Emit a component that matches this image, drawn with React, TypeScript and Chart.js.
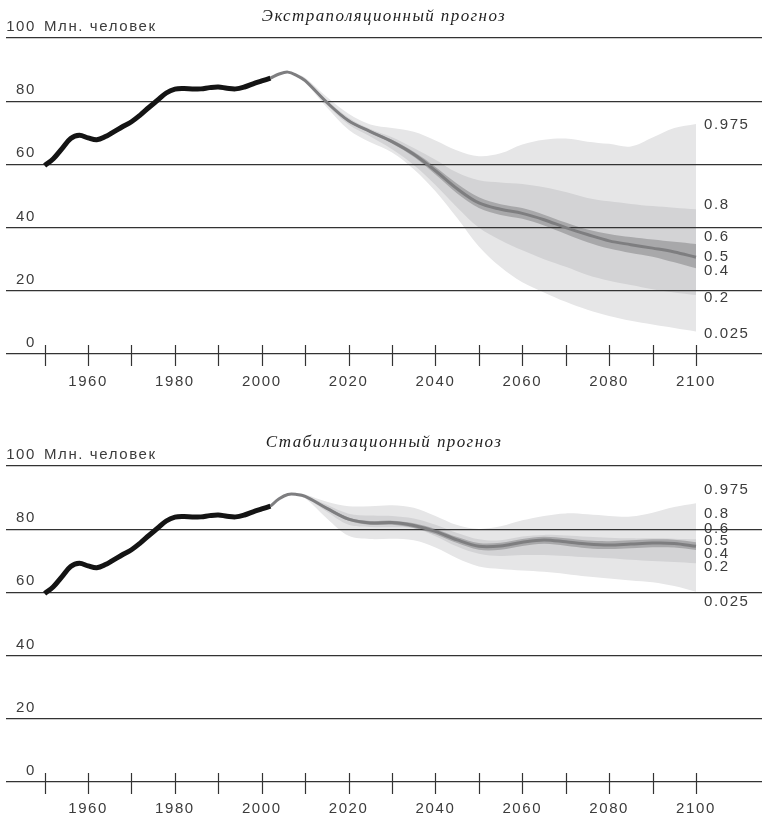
import React, { useEffect, useRef } from 'react';
import { Chart, registerables } from 'chart.js';

Chart.register(...registerables);

// ---------- data ----------
const histYears = [1950, 1952, 1954, 1956, 1958, 1960, 1962, 1964, 1966, 1968, 1970, 1972, 1974, 1976, 1978, 1980, 1982, 1984, 1986, 1988, 1990, 1992, 1994, 1996, 1998, 2000, 2002];
const histValues = [59.6, 61.8, 65.0, 68.2, 69.2, 68.4, 67.8, 68.8, 70.4, 72.0, 73.5, 75.6, 78.0, 80.3, 82.6, 83.8, 84.0, 83.9, 83.9, 84.3, 84.5, 84.1, 83.9, 84.5, 85.5, 86.4, 87.3];

const forecastYears = [2002, 2004, 2006, 2008, 2010, 2015, 2020, 2025, 2030, 2035, 2040, 2045, 2050, 2055, 2060, 2065, 2070, 2075, 2080, 2085, 2090, 2095, 2100];

// Extrapolation forecast
const extrapMedian = [87.3, 88.6, 89.2, 88.2, 86.5, 79.6, 73.8, 70.4, 67.2, 63.2, 58.0, 52.3, 47.8, 45.8, 44.5, 42.5, 40.0, 37.8, 35.8, 34.6, 33.5, 32.3, 30.6];
const extrapQ975 = [87.3, 88.7, 89.4, 88.6, 87.4, 81.3, 76.0, 72.6, 71.5, 70.3, 67.6, 64.4, 62.6, 63.5, 66.3, 67.8, 68.2, 67.2, 66.5, 65.7, 68.5, 71.5, 72.8];
const extrapQ80 = [87.3, 88.6, 89.3, 88.4, 86.8, 80.3, 74.8, 71.2, 68.6, 65.2, 61.5, 57.4, 55.0, 54.3, 53.8, 52.8, 51.3, 49.4, 48.3, 47.5, 46.8, 46.3, 45.8];
const extrapQ60 = [87.3, 88.6, 89.2, 88.3, 86.6, 79.9, 74.2, 70.8, 67.8, 64.0, 59.2, 53.9, 49.6, 47.4, 46.2, 44.1, 41.6, 39.4, 38.0, 37.0, 36.2, 35.5, 34.8];
const extrapQ40 = [87.3, 88.6, 89.2, 88.1, 86.4, 79.3, 73.4, 70.0, 66.6, 62.4, 56.8, 50.8, 46.2, 44.0, 42.8, 40.7, 38.0, 35.4, 33.4, 32.0, 30.8, 29.0, 27.1];
const extrapQ20 = [87.3, 88.5, 89.1, 88.0, 86.2, 78.8, 72.6, 68.8, 64.8, 59.8, 53.5, 46.4, 40.0, 36.0, 32.8, 30.0, 27.6, 25.0, 23.2, 21.8, 20.5, 19.5, 18.7];
const extrapQ025 = [87.3, 88.5, 89.0, 87.8, 85.8, 78.0, 71.0, 67.0, 63.8, 58.5, 51.5, 43.0, 34.0, 27.5, 22.7, 19.5, 16.5, 14.0, 12.0, 10.5, 9.3, 8.2, 7.1];

// Stabilization forecast
const stabMedian = [87.3, 89.6, 91.0, 91.0, 90.4, 86.6, 83.2, 82.0, 82.1, 81.2, 79.3, 76.6, 74.6, 74.7, 75.9, 76.6, 76.0, 75.3, 75.0, 75.3, 75.6, 75.5, 74.6];
const stabQ975 = [87.3, 89.7, 91.2, 91.4, 91.0, 88.7, 87.3, 87.3, 87.6, 86.8, 84.2, 81.3, 80.1, 80.9, 82.8, 84.2, 85.0, 84.7, 84.2, 84.0, 85.2, 87.0, 88.2];
const stabQ80 = [87.3, 89.6, 91.1, 91.2, 90.7, 87.7, 84.9, 84.3, 84.2, 83.4, 81.4, 78.8, 76.8, 76.5, 77.7, 78.2, 78.0, 77.6, 77.3, 77.1, 77.1, 77.0, 76.8];
const stabQ60 = [87.3, 89.6, 91.0, 91.1, 90.5, 87.0, 83.7, 82.6, 82.7, 81.9, 80.1, 77.5, 75.6, 75.7, 76.9, 77.6, 77.1, 76.4, 76.2, 76.5, 76.8, 76.7, 75.9];
const stabQ40 = [87.3, 89.6, 91.0, 90.9, 90.3, 86.2, 82.7, 81.4, 81.4, 80.4, 78.4, 75.6, 73.5, 73.5, 74.7, 75.4, 74.8, 74.0, 73.7, 74.0, 74.3, 74.2, 73.4];
const stabQ20 = [87.3, 89.5, 90.9, 90.8, 90.1, 85.5, 81.4, 80.7, 80.6, 80.3, 77.8, 74.5, 72.2, 71.5, 71.8, 71.8, 71.5, 71.1, 70.8, 70.3, 69.9, 69.6, 69.2];
const stabQ025 = [87.3, 89.5, 90.8, 90.6, 89.8, 83.4, 77.9, 76.9, 77.0, 76.5, 74.2, 70.8, 68.2, 67.4, 66.9, 66.5, 65.8, 65.0, 64.4, 63.8, 63.2, 62.0, 60.2];

const quantileLabels = ['0.975', '0.8', '0.6', '0.5', '0.4', '0.2', '0.025'];
const extrapLabelValues = [72.6, 47.2, 37.0, 30.7, 26.3, 17.7, 6.3];
const stabLabelValues = [92.4, 85.0, 80.0, 76.4, 72.2, 68.0, 57.0];

const yTicks = [0, 20, 40, 60, 80, 100];
const xTicks = [1950, 1960, 1970, 1980, 1990, 2000, 2010, 2020, 2030, 2040, 2050, 2060, 2070, 2080, 2090, 2100];
const xLabelYears = [1960, 1980, 2000, 2020, 2040, 2060, 2080, 2100];
const unitLabel = 'Млн. человек';
const extrapTitle = 'Экстраполяционный прогноз';
const stabTitle = 'Стабилизационный прогноз';

// ---------- styles ----------
const TEXT = '#3c3c3c';
const GRID = '#333333';
const SANS = '"Liberation Sans", Arial, sans-serif';
const SERIF = '"Liberation Serif", "DejaVu Serif", serif';

type Props = {
  top: number;
  height: number;
  padTop: number;
  padBottom: number;
  xHeight: number;
  labelPad: number;
  titleBaseline: number;
  title: string;
  median: number[];
  q975: number[];
  q80: number[];
  q60: number[];
  q40: number[];
  q20: number[];
  q025: number[];
  labelValues: number[];
};

const pts = (xs: number[], ys: number[]) => xs.map((x, i) => ({ x, y: ys[i] }));

function ForecastChart(p: Props) {
  const ref = useRef<HTMLCanvasElement>(null);
  useEffect(() => {
    const canvas = ref.current!;
    const overlay = {
      id: 'overlay',
      beforeDraw(chart: any) {
        const ctx = chart.ctx as CanvasRenderingContext2D;
        const xs = chart.scales.x;
        const ys = chart.scales.y;
        const area = chart.chartArea;
        (ctx as any).letterSpacing = '1.6px';
        ctx.save();
        ctx.fillStyle = TEXT;
        ctx.font = `15px ${SANS}`;
        (ctx as any).letterSpacing = '1.6px';
        // y labels
        ctx.textBaseline = 'alphabetic';
        for (const v of yTicks) {
          const py = ys.getPixelForValue(v);
          ctx.textAlign = 'right';
          ctx.fillText(String(v), area.left + 30, py - 7);
          if (v === 100) {
            ctx.textAlign = 'left';
            ctx.fillText(unitLabel, area.left + 38, py - 7);
          }
        }
        // right quantile labels
        ctx.textAlign = 'left';
        ctx.textBaseline = 'middle';
        const lx = xs.getPixelForValue(2100) + 8;
        p.labelValues.forEach((v, i) => {
          ctx.fillText(quantileLabels[i], lx, ys.getPixelForValue(v));
        });
        // title
        ctx.font = `italic 17px ${SERIF}`;
        (ctx as any).letterSpacing = '1.4px';
        ctx.textAlign = 'center';
        ctx.textBaseline = 'alphabetic';
        ctx.fillStyle = '#1e1e1e';
        ctx.fillText(p.title, (area.left + area.right) / 2, p.titleBaseline);
        ctx.restore();
      },
      afterDatasetsDraw(chart: any) {
        const ctx = chart.ctx as CanvasRenderingContext2D;
        const xs = chart.scales.x;
        const ys = chart.scales.y;
        const axisY = ys.getPixelForValue(0);
        ctx.save();
        ctx.strokeStyle = GRID;
        ctx.lineWidth = 1.2;
        for (const v of xTicks) {
          const px = Math.round(xs.getPixelForValue(v)) + 0.5;
          ctx.beginPath();
          ctx.moveTo(px, axisY - 9);
          ctx.lineTo(px, axisY + 12);
          ctx.stroke();
        }
        ctx.restore();
      },
    };
    const band = (data: number[], color: string | undefined) => ({
      data: pts(forecastYears, data),
      borderColor: 'rgba(0,0,0,0)',
      borderWidth: 0,
      backgroundColor: color || 'rgba(0,0,0,0)',
      fill: color ? '+1' : false,
      pointRadius: 0,
    });
    const chart = new Chart(canvas, {
      type: 'line',
      data: {
        datasets: [
          {
            data: pts(histYears, histValues),
            borderColor: '#141414',
            borderWidth: 5,
            pointRadius: 0,
            fill: false,
            borderCapStyle: 'butt',
          },
          {
            data: pts(forecastYears, p.median),
            borderColor: '#7e7e80',
            borderWidth: 3,
            pointRadius: 0,
            fill: false,
          },
          band(p.q60, '#a8a8aa'),
          band(p.q40, undefined),
          band(p.q80, '#d3d3d5'),
          band(p.q20, undefined),
          band(p.q975, '#e6e6e7'),
          band(p.q025, undefined),
        ] as any,
      },
      options: {
        responsive: false,
        animation: false,
        devicePixelRatio: 1,
        layout: { padding: { left: 6, right: 2, top: p.padTop, bottom: p.padBottom } },
        elements: { line: { tension: 0.35 }, point: { radius: 0 } },
        plugins: {
          legend: { display: false },
          tooltip: { enabled: false },
          title: { display: false },
          filler: { drawTime: 'beforeDraw' },
        } as any,
        scales: {
          x: {
            type: 'linear',
            min: 1941.1,
            max: 2115.2,
            grid: { display: false },
            border: { display: false },
            afterBuildTicks: (s: any) => {
              s.ticks = xTicks.map((v) => ({ value: v }));
            },
            afterFit: (s: any) => {
              s.height = p.xHeight;
            },
            ticks: {
              autoSkip: false,
              maxRotation: 0,
              padding: p.labelPad,
              color: TEXT,
              font: { family: SANS, size: 15 },
              callback: (v: any) => (xLabelYears.includes(Number(v)) ? String(v) : ''),
            },
          },
          y: {
            type: 'linear',
            min: 0,
            max: 100,
            afterBuildTicks: (s: any) => {
              s.ticks = yTicks.map((v) => ({ value: v }));
            },
            afterFit: (s: any) => {
              s.width = 0;
            },
            grid: { color: GRID, lineWidth: 1.3, drawTicks: false },
            border: { display: false },
            ticks: { display: false },
          },
        } as any,
      },
      plugins: [overlay],
    });
    return () => chart.destroy();
  }, []);
  return (
    <canvas
      ref={ref}
      width={764}
      height={p.height}
      style={{ position: 'absolute', left: 0, top: p.top, width: 764, height: p.height, display: 'block' }}
    />
  );
}

export default function App() {
  return (
    <div style={{ position: 'absolute', left: 0, top: 0, width: 764, height: 815, background: '#fff' }}>
      <ForecastChart
        top={0}
        height={420}
        padTop={38}
        padBottom={26}
        xHeight={40}
        labelPad={11}
        titleBaseline={21}
        title={extrapTitle}
        median={extrapMedian}
        q975={extrapQ975}
        q80={extrapQ80}
        q60={extrapQ60}
        q40={extrapQ40}
        q20={extrapQ20}
        q025={extrapQ025}
        labelValues={extrapLabelValues}
      />
      <ForecastChart
        top={420}
        height={395}
        padTop={46}
        padBottom={0}
        xHeight={33}
        labelPad={10}
        titleBaseline={27}
        title={stabTitle}
        median={stabMedian}
        q975={stabQ975}
        q80={stabQ80}
        q60={stabQ60}
        q40={stabQ40}
        q20={stabQ20}
        q025={stabQ025}
        labelValues={stabLabelValues}
      />
    </div>
  );
}
